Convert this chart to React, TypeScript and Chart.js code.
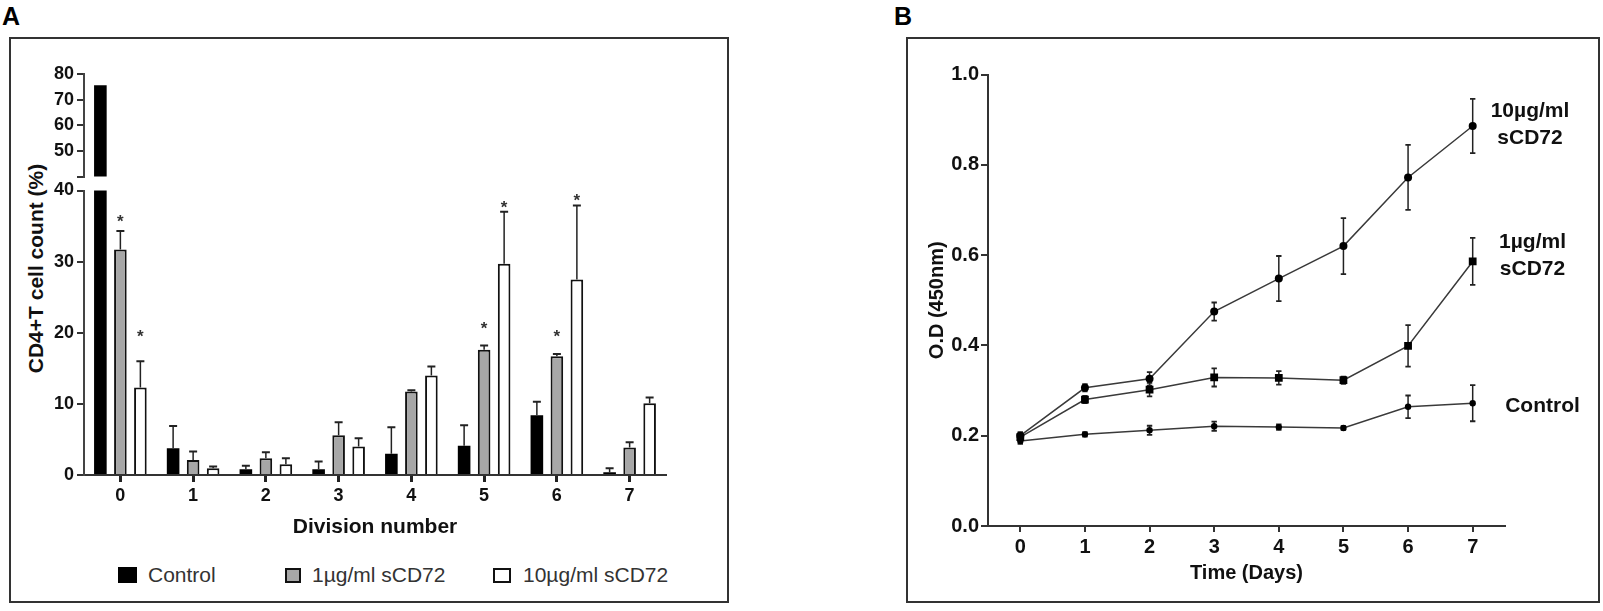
import { useEffect, useRef } from "react";
import { Chart, registerables } from "chart.js";

Chart.register(...registerables);

// ---------- panel A: CD4+T cell count (%) by division number
const divisions = ["0", "1", "2", "3", "4", "5", "6", "7"];
const seriesNames = ["Control", "1µg/ml sCD72", "10µg/ml sCD72"];
const controlPct = [75.6, 3.75, 0.8, 0.8, 3.0, 4.1, 8.4, 0.4];
const low1Pct = [31.7, 2.1, 2.35, 5.6, 11.75, 17.6, 16.7, 3.85];
const high10Pct = [12.3, 0.95, 1.5, 4.0, 14.0, 29.7, 27.5, 10.1];
const controlErr = [0, 3.15, 0.5, 1.1, 3.7, 2.9, 1.9, 0.55];
const low1Err = [2.6, 1.2, 0.85, 1.8, 0.15, 0.6, 0.3, 0.75];
const high10Err = [3.7, 0.25, 0.85, 1.15, 1.25, 7.3, 10.4, 0.8];
// where the "*" marks sit (null = none)
const controlStars = [null, null, null, null, null, null, null, null];
const low1Stars = [36.3, null, null, null, null, 21.2, 20.1, null];
const high10Stars = [20.1, null, null, null, null, 38.2, 39.2, null];
const upperTicks = [40, 50, 60, 70, 80];
const lowerTicks = [0, 10, 20, 30, 40];

// ---------- panel B: O.D (450nm) over days
const days = ["0", "1", "2", "3", "4", "5", "6", "7"];
const od10 = [0.2, 0.306, 0.326, 0.475, 0.548, 0.62, 0.772, 0.886];
const od10Err = [0.008, 0.008, 0.015, 0.02, 0.05, 0.062, 0.072, 0.06];
const od1 = [0.197, 0.28, 0.302, 0.329, 0.328, 0.323, 0.399, 0.586];
const od1Err = [0.008, 0.008, 0.015, 0.02, 0.015, 0.008, 0.046, 0.052];
const odControl = [0.188, 0.203, 0.212, 0.221, 0.219, 0.217, 0.264, 0.272];
const odControlErr = [0.006, 0.005, 0.01, 0.01, 0.006, 0.004, 0.025, 0.04];
const odTicks = [0, 0.2, 0.4, 0.6, 0.8, 1.0];

const FONT = "'Liberation Sans', Arial, sans-serif";
const INK = "#222";

const barValues = [controlPct, low1Pct, high10Pct];
const barErrors = [controlErr, low1Err, high10Err];
const barStars = [controlStars, low1Stars, high10Stars];
const barFills = ["#000000", "#a7a7a7", "#ffffff"];

// error bars, drawn from the library's own scale
const errorBars = {
  id: "errorBars",
  beforeDatasetsDraw(chart: any, _a: any, opts: any) {
    if (opts.layer === "before") draw(chart, opts);
  },
  afterDatasetsDraw(chart: any, _a: any, opts: any) {
    if (opts.layer !== "before") draw(chart, opts);
  },
};

function draw(chart: any, opts: any) {
  const { ctx, chartArea } = chart;
  const y = chart.scales.y;
  ctx.save();
  ctx.beginPath();
  ctx.rect(chartArea.left, chartArea.top - 1, chartArea.right - chartArea.left, chartArea.bottom - chartArea.top + 1);
  ctx.clip();
  ctx.strokeStyle = opts.color || INK;
  chart.data.datasets.forEach((ds: any, di: number) => {
    if (!ds.errors) return;
    const meta = chart.getDatasetMeta(di);
    meta.data.forEach((el: any, i: number) => {
      const v = ds.data[i];
      const e = ds.errors[i];
      if (!e) return;
      const top = y.getPixelForValue(v + e);
      const bottom = opts.both ? y.getPixelForValue(v - e) : el.y;
      ctx.lineWidth = opts.width || 1.5;
      ctx.beginPath();
      ctx.moveTo(el.x, top);
      ctx.lineTo(el.x, bottom);
      ctx.stroke();
      ctx.lineWidth = opts.capWidth || 2;
      const c = opts.cap || 4;
      ctx.beginPath();
      ctx.moveTo(el.x - c, top);
      ctx.lineTo(el.x + c, top);
      if (opts.both) {
        ctx.moveTo(el.x - c, bottom);
        ctx.lineTo(el.x + c, bottom);
      }
      ctx.stroke();
    });
  });
  ctx.restore();
}

const starMarks = {
  id: "starMarks",
  afterDatasetsDraw(chart: any) {
    const { ctx } = chart;
    const y = chart.scales.y;
    ctx.save();
    ctx.font = `bold 17px ${FONT}`;
    ctx.fillStyle = "#333";
    ctx.textAlign = "center";
    ctx.textBaseline = "alphabetic";
    chart.data.datasets.forEach((ds: any, di: number) => {
      if (!ds.stars) return;
      const meta = chart.getDatasetMeta(di);
      meta.data.forEach((el: any, i: number) => {
        const s = ds.stars[i];
        if (s == null || s < y.min || s > y.max) return;
        ctx.fillText("*", el.x, y.getPixelForValue(s) + 9.8);
      });
    });
    ctx.restore();
  },
};

const endLabels = {
  id: "endLabels",
  afterDatasetsDraw(chart: any) {
    const { ctx, chartArea } = chart;
    ctx.save();
    ctx.font = `bold 21px ${FONT}`;
    ctx.fillStyle = "#111";
    ctx.textAlign = "center";
    ctx.textBaseline = "middle";
    chart.data.datasets.forEach((ds: any, di: number) => {
      const pts = chart.getDatasetMeta(di).data;
      const last = pts[pts.length - 1];
      const lines: string[] = ds.endLabel || [];
      const cx = chartArea.right + ds.labelDx;
      const cy = last.y + ds.labelDy;
      lines.forEach((t, j) => ctx.fillText(t, cx, cy + (j - (lines.length - 1) / 2) * 27));
    });
    ctx.restore();
  },
};

function useChart(makeConfig: () => any) {
  const canvasRef = useRef<HTMLCanvasElement>(null);
  useEffect(() => {
    if (!canvasRef.current) return;
    const chart = new Chart(canvasRef.current, makeConfig());
    return () => chart.destroy();
  }, []);
  return canvasRef;
}

function barSegment(min: number, max: number, ticks: number[], upper: boolean) {
  return {
    type: "bar",
    data: {
      labels: divisions,
      datasets: seriesNames.map((name, k) => ({
        label: name,
        data: barValues[k],
        errors: barErrors[k],
        stars: barStars[k],
        backgroundColor: barFills[k],
        borderColor: "#111",
        borderWidth: k === 0 ? 0 : 2,
        borderSkipped: "start",
        clip: 0,
        barPercentage: 0.63,
        categoryPercentage: 0.825,
      })),
    },
    options: {
      responsive: false,
      animation: false,
      events: [],
      layout: upper
        ? { padding: { left: 24, right: 74, top: 74, bottom: 611 - 176.5 } }
        : { padding: { left: 24, right: 74, top: 190.5, bottom: 71 } },
      plugins: {
        legend: { display: false },
        tooltip: { enabled: false },
        errorBars: { cap: 4, width: 1.5, capWidth: 2 },
      },
      scales: {
        x: {
          type: "category",
          offset: true,
          display: !upper,
          afterFit: (s: any) => {
            s.height = upper ? 0 : 65;
          },
          grid: { display: true, offset: false, drawOnChartArea: false, drawTicks: true, tickLength: 7, tickWidth: 3, color: "#222" },
          border: { display: true, color: "#333", width: 2 },
          ticks: { color: "#111", font: { family: FONT, size: 18, weight: "bold" }, padding: 3 },
          title: {
            display: true,
            text: "Division number",
            color: "#111",
            font: { family: FONT, size: 21, weight: "bold" },
            padding: { top: 0, bottom: 0 },
          },
        },
        y: {
          min,
          max,
          afterFit: (s: any) => {
            s.width = 60;
          },
          afterBuildTicks: (s: any) => {
            s.ticks = ticks.map((value) => ({ value }));
          },
          grid: { display: true, drawOnChartArea: false, drawTicks: true, tickLength: 7, lineWidth: 2, color: "#333" },
          border: { display: true, color: "#444", width: 2 },
          ticks: {
            color: "#111",
            font: { family: FONT, size: 18, weight: "bold" },
            padding: 3,
            callback: (v: any) => (upper && v === 40 ? "" : String(v)),
          },
        },
      },
    },
    plugins: [errorBars, starMarks],
  };
}

function lineConfig() {
  const series = [
    { label: "10µg/ml sCD72", data: od10, errors: od10Err, endLabel: ["10µg/ml", "sCD72"], labelDx: 25, labelDy: -1.5, pointStyle: "circle", pointRadius: 4 },
    { label: "1µg/ml sCD72", data: od1, errors: od1Err, endLabel: ["1µg/ml", "sCD72"], labelDx: 27.5, labelDy: -5.5, pointStyle: "rect", pointRadius: 5.5 },
    { label: "Control", data: odControl, errors: odControlErr, endLabel: ["Control"], labelDx: 37.5, labelDy: 3, pointStyle: "circle", pointRadius: 3.2 },
  ];
  return {
    type: "line",
    data: {
      labels: days,
      datasets: series.map((s) => ({
        ...s,
        borderColor: "#3a3a3a",
        borderWidth: 1.5,
        pointBackgroundColor: "#000",
        pointBorderColor: "#000",
        pointBorderWidth: 0,
        tension: 0,
        fill: false,
      })),
    },
    options: {
      responsive: false,
      animation: false,
      events: [],
      layout: { padding: { left: 58, right: 98, top: 74.5, bottom: 25 } },
      plugins: {
        legend: { display: false },
        tooltip: { enabled: false },
        errorBars: { layer: "before", both: true, cap: 2.7, width: 1.5, capWidth: 1.8, color: "#222" },
      },
      scales: {
        x: {
          type: "category",
          offset: true,
          afterFit: (s: any) => {
            s.height = 60;
          },
          grid: { display: true, offset: false, drawOnChartArea: false, drawTicks: true, tickLength: 6, lineWidth: 2, color: "#333" },
          border: { display: true, color: "#333", width: 2 },
          ticks: { color: "#111", font: { family: FONT, size: 20, weight: "bold" }, padding: 3 },
          title: {
            display: true,
            text: "Time (Days)",
            color: "#111",
            font: { family: FONT, size: 20, weight: "bold" },
            padding: { top: 0, bottom: 1 },
          },
        },
        y: {
          min: 0,
          max: 1,
          afterFit: (s: any) => {
            s.width = 70;
          },
          afterBuildTicks: (s: any) => {
            s.ticks = odTicks.map((value) => ({ value }));
          },
          grid: { display: true, drawOnChartArea: false, drawTicks: true, tickLength: 7, lineWidth: 2, color: "#333" },
          border: { display: true, color: "#333", width: 2 },
          ticks: {
            color: "#111",
            font: { family: FONT, size: 20, weight: "bold" },
            padding: 2,
            callback: (v: any) => Number(v).toFixed(1),
          },
          title: {
            display: true,
            text: "O.D (450nm)",
            color: "#111",
            font: { family: FONT, size: 20, weight: "bold" },
            padding: { top: 7, bottom: 0 },
          },
        },
      },
    },
    plugins: [errorBars, endLabels],
  };
}

const abs = (l: number, t: number, w: number, h: number): React.CSSProperties => ({
  position: "absolute",
  left: l,
  top: t,
  width: w,
  height: h,
});

export default function App() {
  const upperRef = useChart(() => barSegment(40, 80, upperTicks, true));
  const lowerRef = useChart(() => barSegment(0, 40, lowerTicks, false));
  const lineRef = useChart(lineConfig);

  const legend = [
    { swatch: [118, 567, 19, 16], text: 148 },
    { swatch: [285, 568, 16, 15], text: 312 },
    { swatch: [493, 568, 18, 15], text: 523 },
  ];

  return (
    <div style={{ position: "fixed", left: 0, top: 0, width: 1603, height: 611, background: "#fff", fontFamily: FONT, overflow: "hidden" }}>
      <div style={{ ...abs(2, 1, 40, 30), font: `bold 25px ${FONT}`, lineHeight: "30px", color: "#000" }}>A</div>
      <div style={{ ...abs(894, 1, 40, 30), font: `bold 25px ${FONT}`, lineHeight: "30px", color: "#000" }}>B</div>

      <div style={{ ...abs(9, 37, 720, 566), border: "2px solid #333", boxSizing: "border-box" }} />
      <div style={{ ...abs(906, 37, 694, 566), border: "2px solid #333", boxSizing: "border-box" }} />

      <div
        style={{
          ...abs(35 - 150, 268 - 12.5, 300, 25),
          font: `bold 21px ${FONT}`,
          lineHeight: "25px",
          textAlign: "center",
          color: "#111",
          transform: "rotate(-90deg)",
          whiteSpace: "nowrap",
        }}
      >
        CD4+T cell count (%)
      </div>

      {legend.map((item, k) => (
        <div key={k}>
          <div
            style={{
              ...abs(item.swatch[0], item.swatch[1], item.swatch[2], item.swatch[3]),
              background: barFills[k],
              border: k === 0 ? "none" : "2px solid #111",
              boxSizing: "border-box",
            }}
          />
          <div style={{ ...abs(item.text, 563, 220, 24), font: `21px ${FONT}`, lineHeight: "24px", color: "#333", whiteSpace: "nowrap" }}>
            {seriesNames[k]}
          </div>
        </div>
      ))}

      <canvas ref={lowerRef} width={740} height={611} style={abs(0, 0, 740, 611)} />
      <canvas ref={upperRef} width={740} height={611} style={abs(0, 0, 740, 611)} />
      <canvas ref={lineRef} width={743} height={611} style={abs(860, 0, 743, 611)} />
    </div>
  );
}
